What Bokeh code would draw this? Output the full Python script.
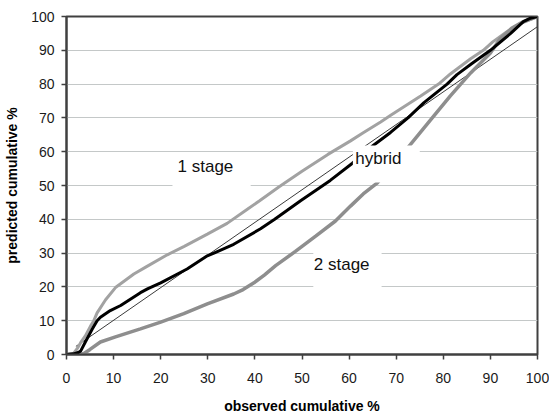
from bokeh.plotting import figure
from bokeh.models import Range1d, BoxAnnotation, Label
from bokeh.embed import file_html
from bokeh.resources import INLINE

# observed cumulative % (x) vs predicted cumulative % (y) for each model
one_stage_x = [0, 1.5, 2.3, 3, 4, 5.1, 5.8, 6.5, 8.3, 10.4, 14.3, 17, 21.4, 25, 29.9, 34.1, 38.4, 41,
               45, 50, 55.5, 60.3, 63, 66.7, 69, 75.2, 79, 81.5, 85.8, 88.5, 90.5, 93.5, 96.5, 100]
one_stage_y = [0, 0.3, 1.8, 3.5, 5.5, 8.4, 10, 12.3, 16.2, 19.8, 23.8, 26, 29.5, 32, 35.6, 38.8, 43, 45.5,
               49.5, 54.2, 59.2, 63.2, 65.6, 68.8, 70.9, 76.5, 80, 83, 87.5, 90, 92.5, 95.5, 98, 100]

hybrid_x = [0, 1.5, 2.5, 3, 4, 5.5, 6.5, 7.2, 9.3, 11.5, 15.7, 17.3, 20, 25.6, 29.9, 31.3, 35.5, 41.2,
            44.2, 49.7, 56, 60.7, 64.9, 68.8, 72.5, 75.9, 80.8, 82.9, 86, 90, 94.3, 97, 98.5, 100]
hybrid_y = [0, 0.2, 0.6, 1, 3.7, 7.6, 10, 11, 13, 14.5, 18.3, 19.5, 21.2, 25.3, 29.2, 30, 32.6, 37.2,
            40, 45.5, 51.5, 56.6, 61.6, 65.7, 70, 74.5, 80, 82.8, 86, 90, 95, 98.5, 99.5, 100]

two_stage_x = [0, 3, 3.7, 5, 7.2, 10.4, 15.7, 20, 24.9, 29.9, 35.5, 37.5, 39.8, 42, 44.4, 48.6, 52.9,
               57.1, 60.3, 63, 66, 69.5, 73, 78, 81.5, 85.8, 90, 92.1, 94.5, 97, 100]
two_stage_y = [0, 0, 0.3, 1.5, 3.7, 5.2, 7.6, 9.6, 12.1, 15, 17.9, 19.2, 21.2, 23.5, 26.3, 30.5, 35,
               39.5, 43.9, 47.5, 50.8, 56.5, 62.1, 70.6, 76.5, 83.3, 89.2, 93.5, 96.5, 98.5, 100]

ref_x = [2, 100]
ref_y = [2.4, 97]

ticks = list(range(0, 101, 10))

p = figure(width=549, height=416, output_backend="svg", toolbar_location=None,
           x_range=Range1d(0, 100), y_range=Range1d(0, 100),
           min_border_left=66, min_border_right=12, min_border_top=16, min_border_bottom=60)

p.line(ref_x, ref_y, line_color="#3a3a3a", line_width=1)
p.line(one_stage_x, one_stage_y, line_color="#a2a2a2", line_width=3)
p.line(two_stage_x, two_stage_y, line_color="#8e8e8e", line_width=3.5)
p.line(hybrid_x, hybrid_y, line_color="black", line_width=3)

# white text boxes that sit over the grid and curves
boxes = [(22.5, 39.1, 48, 59), (60.8, 75, 50.9, 61.8), (52.4, 66.9, 18.8, 31.8)]
for l, r, b, t in boxes:
    p.add_layout(BoxAnnotation(left=l, right=r, bottom=b, top=t, fill_color="white",
                               fill_alpha=1, line_alpha=0))

lab_font = "Liberation Sans"
p.add_layout(Label(x=29.5, y=55.6, text="1 stage", text_align="center", text_baseline="middle",
                   text_font=lab_font, text_font_size="17px", text_color="#111111"))
p.add_layout(Label(x=61.3, y=58, text="hybrid", text_align="left", text_baseline="middle",
                   text_font=lab_font, text_font_size="17px", text_color="#111111"))
p.add_layout(Label(x=52.5, y=26.5, text="2 stage", text_align="left", text_baseline="middle",
                   text_font=lab_font, text_font_size="17px", text_color="#111111"))

# axes
p.xaxis.ticker = ticks
p.yaxis.ticker = ticks
p.xaxis.axis_label = "observed cumulative %"
p.yaxis.axis_label = "predicted cumulative %"
p.axis.axis_label_text_font = lab_font
p.axis.axis_label_text_font_style = "bold"
p.axis.axis_label_text_font_size = "14px"
p.axis.axis_label_text_color = "black"
p.xaxis.axis_label_standoff = 12
p.yaxis.axis_label_standoff = 8
p.axis.major_label_text_font = lab_font
p.axis.major_label_text_font_size = "14px"
p.axis.major_label_text_color = "#1a1a1a"
p.xaxis.major_label_standoff = 13
p.yaxis.major_label_standoff = 7
p.axis.minor_tick_line_color = None
p.axis.major_tick_in = 0
p.axis.major_tick_out = 5
p.axis.axis_line_color = "#404040"
p.axis.axis_line_width = 2
p.axis.major_tick_line_color = "#404040"
p.axis.major_tick_line_width = 1.5

p.xgrid.grid_line_color = None
p.ygrid.grid_line_color = "#c4c8c8"
p.ygrid.grid_line_width = 1.2

p.outline_line_color = "#404040"
p.outline_line_width = 2
p.outline_line_alpha = 1
p.background_fill_color = "white"
p.border_fill_color = "white"

open("out.html", "w").write(file_html(p, INLINE))
